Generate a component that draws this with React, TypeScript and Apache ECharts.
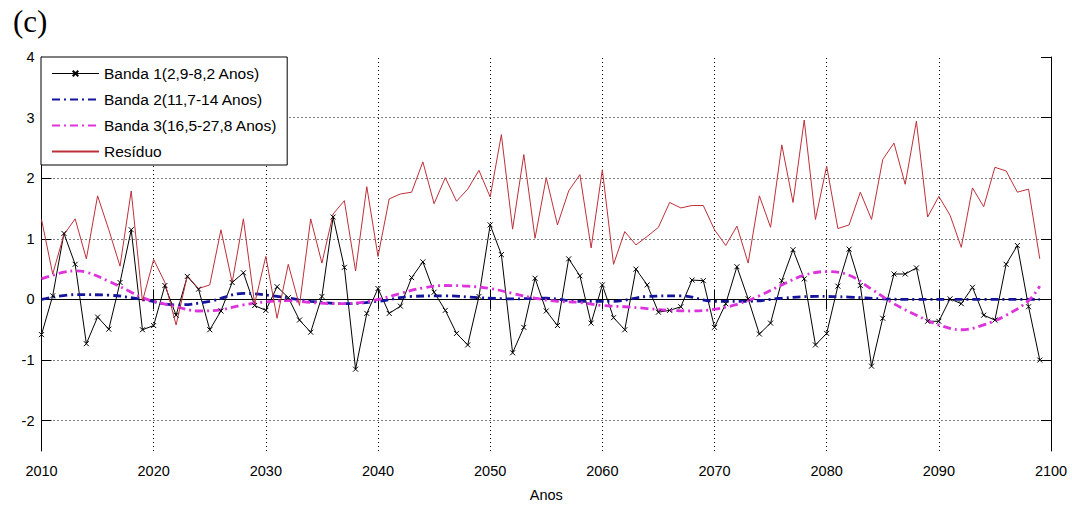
import React, { useEffect, useRef } from "react";
import * as echarts from "echarts";

const years = Array.from({ length: 90 }, (_, i) => 2010 + i);

const band1 = [
  -0.58, 0.06, 1.09, 0.58, -0.73, -0.29, -0.49, 0.28, 1.15, -0.5,
  -0.43, 0.23, -0.26, 0.38, 0.17, -0.5, -0.19, 0.28, 0.44, -0.1,
  -0.18, 0.21, 0.03, -0.34, -0.54, 0.05, 1.36, 0.53, -1.15, -0.23,
  0.18, -0.23, -0.11, 0.36, 0.62, 0.12, -0.18, -0.56, -0.75, 0.05,
  1.23, 0.74, -0.88, -0.46, 0.35, -0.19, -0.43, 0.67, 0.39, -0.39,
  0.24, -0.3, -0.5, 0.5, 0.24, -0.21, -0.18, -0.12, 0.32, 0.31,
  -0.46, -0.07, 0.54, 0.01, -0.57, -0.39, 0.31, 0.82, 0.34, -0.75,
  -0.56, 0.22, 0.83, 0.23, -1.1, -0.31, 0.42, 0.42, 0.52, -0.36,
  -0.36, 0.01, -0.07, 0.2, -0.26, -0.34, 0.58, 0.89, -0.12, -1.0,
];

const residuo = [
  1.32, 0.42, 1.07, 1.33, 0.67, 1.71, 1.15, 0.55, 1.79, -0.03,
  0.66, 0.28, -0.42, 0.39, 0.18, 0.24, 1.15, 0.28, 1.33, -0.07,
  0.71, -0.31, 0.58, -0.1, 1.33, 0.6, 1.41, 1.63, 0.47, 1.86,
  0.71, 1.66, 1.74, 1.77, 2.27, 1.58, 2.01, 1.62, 1.82, 2.13,
  1.69, 2.72, 1.16, 2.39, 1.01, 2.01, 1.23, 1.79, 2.06, 0.85,
  2.14, 0.58, 1.12, 0.9, 1.04, 1.19, 1.6, 1.51, 1.55, 1.55,
  1.15, 0.89, 1.21, 0.6, 1.71, 1.19, 2.55, 1.6, 2.96, 1.32,
  2.2, 1.17, 1.23, 1.77, 1.32, 2.31, 2.58, 1.9, 2.94, 1.36,
  1.7, 1.39, 0.86, 1.84, 1.53, 2.18, 2.12, 1.77, 1.82, 0.67,
];

const band2Years = [
  2010, 2013, 2016, 2019, 2022, 2025, 2028, 2031, 2034, 2037, 2040,
  2043, 2046, 2049, 2052, 2055, 2058, 2061, 2064, 2067, 2070, 2073,
  2076, 2079, 2082, 2085, 2088, 2091, 2094, 2097, 2099,
];
const band2 = [
  0.0, 0.08, 0.07, 0.0, -0.09, -0.03, 0.1, 0.05, -0.03, -0.07, -0.03,
  0.05, 0.06, 0.03, 0.01, 0.02, -0.03, -0.03, 0.05, 0.06, -0.03, -0.03,
  0.02, 0.05, 0.04, 0.01, 0.0, 0.0, 0.0, 0.0, 0.0,
];

const band3Years = [
  2010, 2012, 2013, 2014, 2016, 2018, 2019, 2020, 2022, 2024, 2026,
  2028, 2030, 2032, 2034, 2036, 2038, 2040, 2042, 2044, 2046, 2048,
  2050, 2052, 2054, 2056, 2058, 2060, 2062, 2064, 2066, 2068, 2070,
  2072, 2074, 2076, 2078, 2080, 2082, 2084, 2086, 2088, 2090, 2092,
  2094, 2096, 2098, 2099,
];
const band3 = [
  0.34, 0.45, 0.47, 0.45, 0.3, 0.12, 0.03, -0.03, -0.12, -0.19, -0.17,
  -0.09, -0.04, -0.02, -0.05, -0.07, -0.06, 0.0, 0.1, 0.19, 0.23, 0.22,
  0.18, 0.1, 0.02, -0.03, -0.05, -0.1, -0.12, -0.15, -0.18, -0.19, -0.16,
  -0.08, 0.06, 0.24, 0.4, 0.46, 0.4, 0.17, -0.07, -0.26, -0.42, -0.5,
  -0.42, -0.26, -0.02, 0.22,
];

const yTickValues = [-2, -1, 0, 1, 2, 3, 4];
const yGridValues = [-2, -1, 0, 1, 2, 3];
const xGridValues = [2020, 2030, 2040, 2050, 2060, 2070, 2080, 2090];

const legendNames = [
  "Banda 1(2,9-8,2 Anos)",
  "Banda 2(11,7-14 Anos)",
  "Banda 3(16,5-27,8 Anos)",
  "Resíduo",
];

const FONT = "'Liberation Sans', Arial, Helvetica, sans-serif";

export default function App() {
  const ref = useRef<HTMLDivElement>(null);

  useEffect(() => {
    if (!ref.current) return;
    const chart = echarts.init(ref.current, undefined, { renderer: "svg" });

    const tickStyle = { show: true, inside: true, length: 10, lineStyle: { color: "#000", width: 1 } };
    const axisLineStyle = { show: true, lineStyle: { color: "#000", width: 1 } };

    chart.setOption({
      animation: false,
      backgroundColor: "#fff",
      title: {
        text: "(c)",
        left: 8,
        top: 1,
        textStyle: { fontFamily: "'Liberation Serif', 'Times New Roman', serif", fontSize: 31, fontWeight: "normal", color: "#000" },
      },
      grid: { left: 41.5, right: 21, top: 57, bottom: 48, containLabel: false },
      legend: {
        data: [
          { name: legendNames[0], lineStyle: { width: 1 } },
          { name: legendNames[1], itemStyle: { opacity: 0 } },
          { name: legendNames[2], itemStyle: { opacity: 0 } },
          { name: legendNames[3], itemStyle: { opacity: 0 } },
        ],
        orient: "vertical",
        left: 41,
        top: 57,
        padding: [7, 10, 4, 10],
        itemWidth: 47,
        itemHeight: 7,
        itemGap: 7,
        backgroundColor: "#fff",
        borderColor: "#000",
        borderWidth: 1,
        borderRadius: 0,
        textStyle: { fontFamily: FONT, fontSize: 15.5, color: "#000", lineHeight: 19 },
      },
      xAxis: [
        {
          type: "value",
          min: 2010,
          max: 2100,
          interval: 10,
          position: "bottom",
          axisLine: axisLineStyle,
          axisTick: tickStyle,
          splitLine: { show: false },
          axisLabel: { fontFamily: FONT, fontSize: 14.5, color: "#000", margin: 12, formatter: (v: number) => String(v) },
          name: "Anos",
          nameLocation: "middle",
          nameGap: 36,
          nameTextStyle: { fontFamily: FONT, fontSize: 14.5, color: "#000" },
        },
        {
          type: "value",
          min: 2010,
          max: 2100,
          interval: 10,
          position: "top",
          axisLine: axisLineStyle,
          axisTick: tickStyle,
          splitLine: { show: false },
          axisLabel: { show: false },
        },
      ],
      yAxis: [
        {
          type: "value",
          min: -2.5,
          max: 4,
          position: "left",
          axisLine: axisLineStyle,
          axisTick: { ...tickStyle, customValues: yTickValues },
          splitLine: { show: false },
          axisLabel: { fontFamily: FONT, fontSize: 14.5, color: "#000", margin: 7, customValues: yTickValues },
        },
        {
          type: "value",
          min: -2.5,
          max: 4,
          position: "right",
          axisLine: axisLineStyle,
          axisTick: { ...tickStyle, customValues: yTickValues },
          splitLine: { show: false },
          axisLabel: { show: false, customValues: yTickValues },
        },
      ],
      series: [
        {
          name: "grid",
          type: "line",
          data: [],
          xAxisIndex: 0,
          yAxisIndex: 0,
          z: 1,
          silent: true,
          markLine: {
            z: 1,
            silent: true,
            symbol: ["none", "none"],
            label: { show: false },
            lineStyle: { color: "#000", type: [1, 3], width: 1 },
            emphasis: { disabled: true },
            data: [
              ...yGridValues.map((v) => ({ yAxis: v })),
              ...xGridValues.map((v) => ({ xAxis: v })),
            ],
          },
        },
        {
          name: legendNames[0],
          type: "line",
          xAxisIndex: 0,
          yAxisIndex: 0,
          data: years.map((y, i) => [y, band1[i]]),
          symbol: "path://M0,0L10,10M10,0L0,10",
          symbolSize: 5,
          showSymbol: true,
          showAllSymbol: true,
          itemStyle: { color: "#000", borderColor: "#000", borderWidth: 1 },
          lineStyle: { color: "#000", width: 1 },
        },
        {
          name: legendNames[1],
          type: "line",
          xAxisIndex: 0,
          yAxisIndex: 0,
          data: band2Years.map((y, i) => [y, band2[i]]),
          smooth: 0.4,
          symbol: "none",
          itemStyle: { color: "#14149c" },
          lineStyle: { color: "#14149c", width: 2.8, type: [8, 4, 2, 4] },
        },
        {
          name: legendNames[2],
          type: "line",
          xAxisIndex: 0,
          yAxisIndex: 0,
          data: band3Years.map((y, i) => [y, band3[i]]),
          smooth: 0.4,
          symbol: "none",
          itemStyle: { color: "#dd33dd" },
          lineStyle: { color: "#dd33dd", width: 2.8, type: [8, 4, 2, 4] },
        },
        {
          name: legendNames[3],
          type: "line",
          xAxisIndex: 0,
          yAxisIndex: 0,
          data: years.map((y, i) => [y, residuo[i]]),
          symbol: "none",
          itemStyle: { color: "#bd303a" },
          lineStyle: { color: "#bd303a", width: 1 },
        },
      ],
    });

    return () => chart.dispose();
  }, []);

  return (
    <div
      ref={ref}
      style={{ position: "absolute", left: 0, top: 0, width: 1072, height: 507, background: "#fff" }}
    />
  );
}
